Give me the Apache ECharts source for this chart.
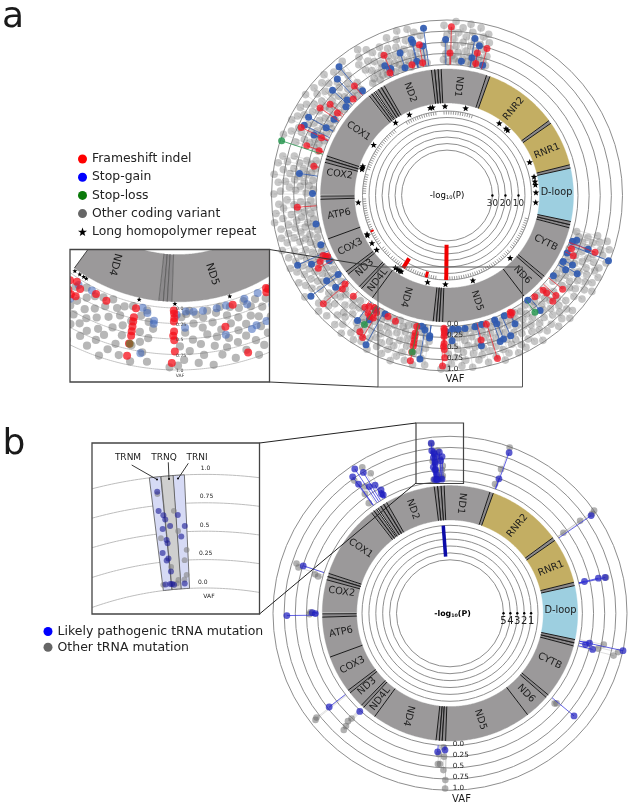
<!DOCTYPE html>
<html><head><meta charset="utf-8">
<script src="https://cdn.jsdelivr.net/npm/echarts@6/dist/echarts.min.js"></script>
<style>html,body{margin:0;padding:0;background:#fff}#c{width:634px;height:808px}</style>
</head><body><div id="c"></div>
<script>
// ---------- mitochondrial genome map (bp) ----------
const genomeLength = 16569;
const geneNames  = ['D-loop','D-loop','RNR1','RNR2','ND1','ND2','COX1','COX2','ATP6','COX3','ND3','ND4L','ND4','ND5','ND6','CYTB'];
const geneStart  = [16024,0,648,1671,3307,4470,5904,7586,8366,9207,10059,10470,10765,12337,14149,14747];
const geneEnd    = [16569,576,1601,3229,4262,5511,7445,8269,9207,9990,10404,10765,12137,14148,14673,15887];
const geneKind   = ['d','d','r','r','p','p','p','p','p','p','p','p','p','p','p','p'];
const trnaStart  = [577,1602,3230,4263,4329,4402,5512,5587,5657,5761,5826,7446,7518,8295,9991,10405,12138,12207,12266,14674,15888,15956];
const trnaEnd    = [647,1670,3304,4331,4400,4469,5579,5655,5729,5826,5891,7514,7585,8364,10058,10469,12206,12265,12336,14742,15953,16023];
const singleLines = [9207,10765,14149];
const labelNames = ['D-loop','RNR1','RNR2','ND1','ND2','COX1','COX2','ATP6','COX3','ND3','ND4L','ND4','ND5','ND6','CYTB'];
const labelAngle = [1.5,23.9,52.4,84,109.7,144,168.8,189.8,208,221.3,230.8,248,286,313.5,334.4];
const labelTilt  = [0,22,50,-97,-70,-34,-8,12,28,42,52,-105,-72,-46,-26];
const insetLabelAngle = [245.5,283];
// ---------- panel a: [angle deg, VAF] ----------
const frameshift = [[88.5,.85],[88.8,.26],[74.8,.48],[78,.33],[77.7,.09],[100.4,.5],[114.2,.51],[114.9,.1],[105,.1],[100.4,.09],[130.2,.28],[134.2,.08],[142,.39],[145.4,.52],[143,.14],[155,.67],[155.3,.16],[160.5,.4],[160.7,.1],[167.6,.12],[184.5,.43],[206.6,.11],[207.5,.27],[205.8,.15],[207,.07],[209.5,.38],[220.9,.09],[221.2,.75],[221.8,.21],[227.1,.15],[239,.13],[233.7,.17],[244,.08],[247.7,.11],[237.5,.28],[237.4,.69],[239.3,.77],[236.2,.24],[239,.27],[235,.1],[237,.06],[257,.08],[257,.23],[257.2,.38],[257.4,.53],[257.1,.3],[257.3,.46],[257.5,.86],[257.3,.66],[268.7,.04],[268.8,.09],[268.9,.16],[268.8,.22],[268.7,.45],[268.9,.38],[269,.52],[269.2,.7],[268.5,.89],[283.3,.39],[287,.08],[287.2,.89],[298,.1],[299,.07],[298.5,.04],[310.9,.07],[315.4,.09],[315,.42],[317.4,.38],[321,.4],[315.6,.19],[334.5,.2],[336.8,.1],[339,.62]];
const stopGain = [[90.5,.56],[83.9,.09],[79.9,.64],[77.8,.5],[79.7,.2],[74.7,.09],[98,.85],[102.9,.65],[99.2,.46],[102.6,.58],[108.2,.43],[115.6,.29],[113.9,.18],[108.2,.08],[102.7,.15],[130,.83],[128.9,.08],[133.3,.65],[137.4,.55],[136.3,.16],[138.7,.08],[146,.12],[150.5,.63],[150.7,.17],[153.8,.63],[155.5,.34],[171.5,.41],[179.1,.08],[192.3,.07],[201.3,.1],[209,.08],[206.9,.47],[205,.76],[216,.08],[215.3,.37],[219.5,.3],[216.5,.86],[238,.09],[242.4,.06],[238,.35],[234.4,.51],[241.5,.87],[260.6,.78],[259,.05],[260.7,.12],[263,.23],[263,.28],[269.6,.11],[272.4,.06],[274.8,.07],[277.7,.07],[272,.32],[282,.07],[282.9,.52],[285,.06],[291,.05],[291.2,.15],[290,.55],[291.5,.52],[294.4,.52],[295.5,.05],[297.9,.32],[307.6,.03],[309,.38],[323,.05],[328,.2],[330.4,.06],[331,.28],[329,.47],[334.4,.05],[339.9,.06],[341,.14],[339.2,.45],[338,.97]];
const stopLoss = [[161.7,.97],[237.4,.5],[257.5,.66],[307,.34]];
const otherCoding = [
[73.5,.1],[74,.31],[74.5,.62],[75,.18],[75.5,.8],[76,.44],[76.5,.07],[77,.25],[77,.71],[77.5,.53],[78,.12],[78.5,.9],[79,.37],[79.5,.05],[80,.6],[80.5,.22],[81,.77],[81,.46],[81.5,.1],[82,.94],[82.5,.33],[83,.65],[83.5,.15],[84,.52],[84.5,.84],[85,.08],[85.5,.28],[86,.72],[86.5,.42],[87,.97],[87,.13],[87.5,.58],[88,.2],[88.5,.76],[89,.36],[89.5,.06],[90,.66],[90.5,.24],[91,.88],[91,.48],[91.5,.11],
[98.5,.07],[99,.31],[99.5,.7],[100,.18],[101,.42],[101.5,.8],[102,.09],[102.5,.27],[103,.55],[103.5,.9],[104,.14],[104.5,.36],[105,.66],[105.5,.05],[106,.22],[106.5,.48],[107,.92],[107.5,.12],[108,.74],[108.5,.3],[109,.58],[109.5,.08],[110,.18],[110.5,.4],[111,.85],[111.5,.25],[112,.62],[112.5,.06],[113,.46],[113.5,.34],[114,.14],[114.5,.72],[115,.54],[115.5,.2],[116,.09],[116.5,.38],[117,.28],[117.5,.68],[118,.12],[118.5,.48],[119,.8],[119.5,.22],[120,.06],[120.5,.56],[121,.33],[121.5,.9],[122,.15],[122.5,.74],[123,.42],[123.5,.08],[124,.6],
[128,.88],[128.5,.3],[129,.12],[129.5,.55],[130.5,.7],[131,.2],[131.5,.42],[132,.07],[132.5,.82],[133,.32],[133.5,.14],[134,.6],[135,.48],[135.5,.93],[136,.25],[136.5,.72],[137,.1],[137.5,.36],[138,.84],[138.5,.52],[139,.18],[139.5,.66],[140,.06],[140.5,.4],[141,.9],[141.5,.28],[142,.76],[142.5,.12],[143,.58],[143.5,.34],[144,.44],[144.5,.96],[145,.2],[145.5,.68],[146,.08],[146.5,.5],[147,.82],[147.5,.3],[148,.62],[148.5,.14],[149,.9],[149.5,.38],[150,.05],[150.5,.74],[151,.24],[151.5,.46],[152,.86],[152.5,.11],[153,.56],[153.5,.32],[154,.94],[154.5,.2],[155,.42],[155.5,.72],[156,.08],[156.5,.62],[157,.28],[157.5,.84],[158,.16],[158.5,.5],[159,.36],[159.5,.98],[160,.24],[160.5,.66],[161,.12],
[165,.1],[165.5,.6],[166,.3],[166.5,.85],[167,.18],[167.5,.45],[168,.72],[168.5,.07],[169,.92],[169.5,.34],[170,.55],[170.5,.14],[171,.78],[171.5,.24],[172,.62],[172.5,.4],[173,.97],[173.5,.09],[174,.5],[174.5,.28],[175,.7],[175.5,.86],[176,.16],[176.5,.36],[177,.6],[177.5,.06],[178,.46],[178.5,.8],[179,.22],[179.5,.95],
[181.5,.65],[182,.12],[182.5,.35],[183,.84],[183.5,.5],[184,.2],[184.5,.74],[185,.06],[185.5,.42],[186,.92],[186.5,.28],[187,.58],[187.5,.14],[188,.78],[188.5,.36],[189,.98],[189.5,.48],[190,.1],[190.5,.68],[191,.24],[191.5,.86],[192,.54],[192.5,.32],[193,.16],[193.5,.72],[194,.44],[194.5,.9],[195,.06],[195.5,.62],[196,.26],[196.5,.8],[197,.38],[197.5,.52],[198,.12],[198.5,.96],[199,.3],
[200,.7],[200.5,.2],[201,.46],[201.5,.88],[202,.08],[202.5,.6],[203,.34],[203.5,.76],[204,.14],[204.5,.52],[205,.94],[205.5,.26],[206,.66],[206.5,.4],[207,.84],[207.5,.12],[208,.56],[208.5,.3],[209,.72],[209.5,.05],[210,.48],[210.5,.92],[211,.22],[211.5,.64],[212,.36],[212.5,.82],[213,.1],[213.5,.54],[214,.28],[214.5,.74],[215,.44],[215.5,.98],[216,.18],[216.5,.6],[217,.32],
[219,.12],[219.5,.5],[220,.82],[220.5,.3],[221,.62],[221.5,.44],[222,.94],[222.5,.16],[223,.7],[223.5,.36],[224,.56],[224.5,.24],[225,.88],
[227,.42],[227.5,.7],[228,.2],[228.5,.56],[229,.9],[229.5,.32],[230,.62],[230.5,.12],[231,.78],[231.5,.46],[232,.26],[232.5,.96],
[234,.22],[234.5,.56],[235,.82],[235.5,.38],[236,.66],[236.5,.48],[237,.92],[237.5,.14],[238,.6],[238.5,.74],[239,.44],[239.5,.86],[240,.32],[240.5,.06],[241,.54],[241.5,.7],[242,.2],[242.5,.95],[243,.38],[243.5,.62],[244,.12],[244.5,.5],[245,.8],[245.5,.3],[246,.68],[246.5,.08],[247,.42],[247.5,.9],[248,.2],[248.5,.58],[249,.76],[249.5,.05],[250,.34],[250.5,.64],[251,.98],[251.5,.16],[252,.48],[252.5,.84],[253,.26],[253.5,.1],[254,.72],[254.5,.4],[255,.56],[255.5,.88],[256,.06],[256.5,.3],[258,.68],[258.5,.94],[259,.18],[259.5,.44],[260,.6],[260.5,.08],[261,.76],[261.5,.26],[262,.52],[262.5,.9],[263,.36],
[268,.96],[270,.93],[270.5,.62],[271,.15],[271.5,.84],[272,.4],[272.5,.1],[273,.7],[273.5,.05],[274,.52],[274.5,.26],[275,.9],[275.5,.12],[276,.6],[276.5,.78],[277,.34],[277.5,.18],[278,.46],[278.5,.96],[279,.08],[279.5,.66],[280,.28],[280.5,.52],[281,.82],[281.5,.14],[282,.42],[282.5,.72],[283,.06],[283.5,.58],[284,.92],[284.5,.22],[285,.36],[285.5,.68],[286,.1],[286.5,.5],[287,.84],[287.5,.3],[288,.62],[288.5,.16],[289,.44],[289.5,.98],[290,.74],[290.5,.08],[291,.34],[291.5,.86],[292,.2],[292.5,.56],[293,.4],[293.5,.7],[294,.12],[294.5,.94],[295,.28],[295.5,.64],[296,.48],[296.5,.8],[297,.18],[297.5,.9],[298,.38],[298.5,.58],[299,.24],[299.5,.76],[300,.1],[300.5,.46],[301,.88],[301.5,.32],[302,.66],[302.5,.14],[303,.52],[303.5,.96],[304,.26],[304.5,.72],[305,.4],[305.5,.08],[306,.6],[306.5,.84],
[308,.2],[308.5,.56],[309,.78],[309.5,.14],[310,.42],[310.5,.92],[311,.3],[311.5,.64],[312,.08],[312.5,.5],[313,.84],[313.5,.24],[314,.7],[314.5,.36],[315,.96],[315.5,.58],[316,.16],[316.5,.76],[317,.44],[317.5,.88],[318,.28],[318.5,.62],
[321,.12],[321.5,.7],[322,.34],[322.5,.88],[323,.5],[323.5,.18],[324,.62],[324.5,.08],[325,.42],[325.5,.8],[326,.26],[326.5,.96],[327,.56],[327.5,.14],[328,.72],[328.5,.36],[329,.86],[329.5,.06],[330,.48],[330.5,.66],[331,.16],[331.5,.92],[332,.3],[332.5,.58],[333,.78],[333.5,.1],[334,.44],[334.5,.84],[335,.24],[335.5,.68],[336,.52],[336.5,.05],[337,.94],[337.5,.34],[338,.6],[338.5,.18],[339,.8],[339.5,.42],[340,.1],[340.5,.72],[341,.28],[341.5,.9],[342,.5],[342.5,.16],[343,.64],[343.5,.36],[344,.8],[344.5,.08],[345,.56]
];
const homopolymer = [77.9,91.3,99.4,100.9,115,125.3,145.5,161,162,163,184.6,206,206.8,212.5,217.8,234.6,236.5,238,239,257.4,269,286.9,315.2,355.4,1.8,6.8,8.9,12,21.8,47,48.5,54];
const pBarsA = [[269.5,27],[238.9,8.5],[255.7,4.5],[205.3,2.5]];
const pBarWidthA = [4,4,3,2];
const pDotsA = [10,20,30];
// ---------- panel b: [angle deg, VAF] ----------
const likelyPathogenic = [[96.3,.87],[96.4,.7],[95.8,.66],[95.6,.62],[96.1,.54],[95,.56],[93.8,.65],[92.9,.55],[93.5,.46],[95.7,.44],[95.6,.41],[96.5,.33],[96,.26],[95.7,.275],[95.5,.16],[96.6,.05],[95.8,.05],[95.5,.05],[93.4,.045],[95.2,.04],[69.8,.87],[70,.24],[34.7,.88],[13.3,.13],[13.3,.45],[13,.6],[123.4,.91],[121.6,.74],[125.5,.79],[125.3,.58],[122.5,.4],[120.3,.36],[119.2,.2],[119.4,.08],[119.8,.12],[162.1,.49],[180.8,.69],[179.7,.12],[180.1,.05],[217.8,.46],[227.4,.02],[264.9,.15],[267.9,.1],[320.4,.64],[347.9,.23],[345.8,.33],[347,.15],[347.8,1]];
const otherTrna = [[96.3,.85],[94.3,.69],[96.5,.46],[93.9,.51],[92.8,.34],[93.2,.25],[95.4,.2],[93,.12],[93.4,.08],[94.4,.08],[94.7,.05],[97,.05],[70.2,.98],[70.5,.46],[70.8,.1],[35.5,1],[35,.92],[35.4,.61],[35.4,.15],[12.9,.62],[121,.85],[119.5,.64],[125.8,.7],[124,.46],[126.4,.1],[125.5,.32],[162,.65],[163.2,.58],[163.9,.18],[164.4,.1],[180.4,.18],[179.6,.16],[218,.83],[218.4,.88],[226.9,.26],[227.3,.47],[227.7,.57],[226.6,.36],[265.5,.2],[267.6,.25],[266.2,.42],[265.4,.42],[267.6,.55],[268.4,.77],[268.4,.96],[267.3,.04],[319.8,.16],[319.2,.13],[345.5,.82],[347,.9],[346.7,.45],[348.5,.55]];
const pBarsB = [[94.4,4.5]];
const pDotsB = [1,2,3,4,5];
// ---------- axis ticks / labels ----------
const vafTicks = [0,.25,.5,.75,1];
const vafLabels = ['0.0','0.25','0.5','0.75','1.0'];
const insetTrnaNames = ['TRNM','TRNQ','TRNI'];

const deg = bp => bp / genomeLength * 360;
const C = {gene:'#9b999a', r:'#c3ae63', d:'#9dcfe0', t:'#8c8a8c'};
const FONT = '"DejaVu Sans", sans-serif';
const polars = [
  {center:[447,195.5],radius:[131,175.5]},   //0 a VAF
  {center:[447,195.5],radius:[92.5,126.5]},  //1 a genes
  {center:[447,195.5],radius:[45.4,84.5]},   //2 a P
  {center:[447,195.5],radius:[88,90]},       //3 a stars
  {center:[178,126],radius:[182,244]},       //4 inset a VAF
  {center:[178,126],radius:[128.6,175.8]},   //5 inset a genes
  {center:[178,126],radius:[177,179]},       //6 inset a stars
  {center:[450,613.3],radius:[132.4,177]},   //7 b VAF
  {center:[450,613.3],radius:[93.3,127.7]},  //8 b genes
  {center:[450,613.3],radius:[53.5,88]},     //9 b P
  {center:[205,925],radius:[337,450.6]}      //10 inset b VAF
];
const ringStyle = {color:'#8e8e8e',width:1};
const radialCfg = [
 {min:0,max:1,interval:.25,line:true},{min:0,max:1,interval:1,line:false},{min:0,max:30,interval:5,line:true,inverse:true},{min:0,max:1,interval:1,line:false},
 {min:0,max:1,interval:.25,line:false},{min:0,max:1,interval:1,line:false},{min:0,max:1,interval:1,line:false},
 {min:0,max:1,interval:.25,line:true},{min:0,max:1,interval:1,line:false},{min:0,max:5,interval:1,line:true,inverse:true},
 {min:0,max:1,interval:.25,line:false}
];
const clipA = {type:'rect',shape:{x:70,y:249.5,width:199.5,height:132.5}};
const clipB = {type:'rect',shape:{x:92,y:443,width:167.5,height:171}};

function custom(polarIndex, data, renderItem, name, color, z){
  return {type:'custom',coordinateSystem:'polar',polarIndex,data,renderItem,name,silent:true,animation:false,clip:false,
          itemStyle:color?{color}:undefined,z:z||2,encode:{radius:1,angle:0}};
}
function arc(api,v,a0,a1,step){const p=[];const n=Math.max(1,Math.ceil(Math.abs(a1-a0)/step));
  for(let i=0;i<=n;i++)p.push(api.coord([v,a0+(a1-a0)*i/n]));return p;}
function pointSeries(polarIndex,rows,name,o){
  return custom(polarIndex,rows,(p,api)=>{
    const a=api.value(0),v=api.value(1),c=api.coord([v,a]),kids=[];
    if(o.stem){const s=api.coord([0,a]);kids.push({type:'line',shape:{x1:s[0],y1:s[1],x2:c[0],y2:c[1]},style:{stroke:o.stem,lineWidth:o.sw||1}});}
    kids.push({type:'circle',shape:{cx:c[0],cy:c[1],r:o.r},style:{fill:o.color}});
    const g={type:'group',children:kids}; if(o.clip)g.clipPath=JSON.parse(JSON.stringify(o.clip)); return g;
  },name,o.legend,o.z);
}
function starShape(c,R){const pts=[];for(let i=0;i<10;i++){const rr=i%2?R*.42:R,t=-Math.PI/2+i*Math.PI/5;pts.push([c[0]+rr*Math.cos(t),c[1]+rr*Math.sin(t)]);}return pts;}
function starSeries(polarIndex,size,clip){
  return custom(polarIndex,homopolymer.map(a=>[a,.5]),(p,api)=>{
    const g={type:'group',children:[{type:'polygon',shape:{points:starShape(api.coord([api.value(1),api.value(0)]),size)},style:{fill:'#000'}}]};
    if(clip)g.clipPath=JSON.parse(JSON.stringify(clip));return g;},'Long homopolymer repeat','#000',6);
}
function geneSeries(polarIndex,clip,fs,lw,inset){
  const out=[];
  const wrap=(kids)=>{const g={type:'group',children:kids};if(clip)g.clipPath=JSON.parse(JSON.stringify(clip));return g;};
  const geneRows=geneStart.map((s,i)=>[deg(s),deg(geneEnd[i]),i]).filter(r=>!inset||geneNames[r[2]]==='ND4'||geneNames[r[2]]==='ND5');
  const trnaRows=trnaStart.map((s,i)=>[deg(s),deg(trnaEnd[i])]).filter((r,i)=>!inset||(trnaStart[i]>12000&&trnaStart[i]<12400));
  const lineRows=singleLines.filter(b=>!inset||b===10765).map(b=>[deg(b)]);
  const labRows=inset?[[insetLabelAngle[0],labelTilt[11],11],[insetLabelAngle[1],labelTilt[12],12]]:labelAngle.map((a,i)=>[a,labelTilt[i],i]);
  out.push(custom(polarIndex,geneRows,(p,api)=>{
    const a0=api.value(0),a1=api.value(1),k=geneKind[api.value(2)];
    const pts=arc(api,1,a0,a1,.5).concat(arc(api,0,a1,a0,.5));
    return wrap([{type:'polygon',shape:{points:pts},style:{fill:k==='d'?C.d:k==='r'?C.r:C.gene,stroke:k==='d'?C.d:k==='r'?C.r:C.gene,lineWidth:.4}}]);
  }));
  out.push(custom(polarIndex,trnaRows,(p,api)=>{
    const a0=api.value(0),a1=api.value(1);
    const pts=arc(api,1,a0,a1,.5).concat(arc(api,0,a1,a0,.5));
    const e=[a0,a1].map(a=>{const x=api.coord([0,a]),y=api.coord([1,a]);return {type:'line',shape:{x1:x[0],y1:x[1],x2:y[0],y2:y[1]},style:{stroke:inset?'#555':'#1a1a1a',lineWidth:lw}};});
    return wrap([{type:'polygon',shape:{points:pts},style:{fill:C.t}}].concat(e));
  }));
  out.push(custom(polarIndex,lineRows,(p,api)=>{
    const x=api.coord([0,api.value(0)]),y=api.coord([1,api.value(0)]);
    return wrap([{type:'line',shape:{x1:x[0],y1:x[1],x2:y[0],y2:y[1]},style:{stroke:'#1a1a1a',lineWidth:lw}}]);
  }));
  out.push(custom(polarIndex,labRows,(p,api)=>{
    const c=api.coord([.5,api.value(0)]);
    return wrap([{type:'text',x:c[0],y:c[1],rotation:api.value(1)*Math.PI/180,
      style:{text:labelNames[api.value(2)],fontSize:fs,fontFamily:FONT,fill:'#1c1c1c',align:'center',verticalAlign:'middle'}}]);
  },undefined,undefined,3));
  return out;
}
function arcSeries(polarIndex,a0,a1,clip,color){
  return custom(polarIndex,vafTicks.map(v=>[0,v]),(p,api)=>{
    const g={type:'group',children:[{type:'polyline',shape:{points:arc(api,api.value(1),a0,a1,.5)},style:{fill:'none',stroke:color,lineWidth:1}}]};
    g.clipPath=JSON.parse(JSON.stringify(clip));return g;
  });
}
function vafLabelSeries(polarIndex,dx,dy,fs,color){
  return custom(polarIndex,vafTicks.map((v,i)=>[270,v,i]),(p,api)=>{
    const c=api.coord([api.value(1),api.value(0)]);const i=api.value(2);
    return {type:'text',x:c[0]+dx,y:c[1]+dy,style:{text:vafLabels[i],fontSize:fs,fontFamily:FONT,fill:color||'#222',align:'left',verticalAlign:'middle'}};
  },undefined,undefined,8);
}
function pBarSeries(polarIndex,rows,widths,color){
  return custom(polarIndex,rows.map((r,i)=>[r[0],r[1],widths[i]]),(p,api)=>{
    const x=api.coord([0,api.value(0)]),y=api.coord([api.value(1),api.value(0)]);
    return {type:'line',shape:{x1:x[0],y1:x[1],x2:y[0],y2:y[1]},style:{stroke:color,lineWidth:api.value(2)}};
  },undefined,undefined,5);
}
function pDotSeries(polarIndex,vals,fs){
  return custom(polarIndex,vals.map(v=>[0,v]),(p,api)=>{
    const c=api.coord([api.value(1),0]);
    return {type:'group',children:[{type:'circle',shape:{cx:c[0],cy:c[1],r:1.2},style:{fill:'#000'}},
      {type:'text',x:c[0],y:c[1]+8.5,style:{text:String(api.value(1)),fontSize:fs,fontFamily:FONT,fill:'#222',align:'center',verticalAlign:'middle'}}]};
  },undefined,undefined,5);
}
const tickAngles=[];geneStart.forEach((s,i)=>{if(geneKind[i]==='p'){for(let b=s+30;b<geneEnd[i]-10;b+=75)tickAngles.push(deg(b));}});
const tickSeries=custom(2,tickAngles.map(a=>[a]),(p,api)=>{
  const x=api.coord([0,api.value(0)]),y=api.coord([2.7,api.value(0)]);
  return {type:'line',shape:{x1:x[0],y1:x[1],x2:y[0],y2:y[1]},style:{stroke:'#8e8e8e',lineWidth:.9}};
});

const A={grey:'rgba(105,105,105,.38)',red:'rgba(240,22,36,.78)',blue:'rgba(48,90,176,.92)',green:'rgba(40,150,80,.85)'};
const AI={grey:'rgba(95,95,95,.45)',red:'rgba(245,15,25,.75)',blue:'rgba(60,100,185,.55)',green:'rgba(120,110,50,.8)'};
const series=[
  ...geneSeries(1,null,9.7,1,false),
  pointSeries(0,otherCoding,'Other coding variant',{r:3.8,color:A.grey,stem:'rgba(130,130,130,.22)',legend:'#666'}),
  pointSeries(0,stopGain,'Stop-gain',{r:3.5,color:A.blue,stem:'rgba(48,90,176,.8)',legend:'#00f',z:3}),
  pointSeries(0,frameshift,'Frameshift indel',{r:3.5,color:A.red,stem:'rgba(240,30,40,.7)',legend:'#f00',z:3}),
  pointSeries(0,stopLoss,'Stop-loss',{r:3.5,color:A.green,stem:'rgba(40,150,80,.8)',legend:'#0a7a0a',z:3}),
  tickSeries,
  pBarSeries(2,pBarsA,pBarWidthA,'#f00000'),
  pDotSeries(2,pDotsA,8.8),
  starSeries(3,3.5,null),
  vafLabelSeries(0,0,-2,7.2,'#222'),
  arcSeries(4,205,335,clipA,'#c4c4c4'),
  ...geneSeries(5,clipA,10.6,.7,true),
  pointSeries(4,otherCoding,'Other coding variant',{r:4.1,color:AI.grey,clip:clipA,legend:'#666'}),
  pointSeries(4,stopGain,'Stop-gain',{r:4,color:AI.blue,clip:clipA,legend:'#00f',z:3}),
  pointSeries(4,frameshift,'Frameshift indel',{r:4,color:AI.red,clip:clipA,legend:'#f00',z:3}),
  pointSeries(4,stopLoss,'Stop-loss',{r:4,color:AI.green,clip:clipA,legend:'#0a7a0a',z:3}),
  starSeries(6,2.6,clipA),
  vafLabelSeries(4,-2,1,4.6,'#444'),
  ...geneSeries(8,null,9.8,1,false),
  pointSeries(7,otherTrna,'Other tRNA mutation',{r:3.3,color:'rgba(100,100,100,.5)',stem:'rgba(150,150,150,.3)',legend:'#666'}),
  pointSeries(7,likelyPathogenic,'Likely pathogenic tRNA mutation',{r:3.4,color:'rgba(30,30,190,.72)',stem:'rgba(50,50,220,.75)',legend:'#00f',z:3}),
  pBarSeries(9,pBarsB,[3.5],'#0b0ba8'),
  pDotSeries(9,pDotsB,10),
  vafLabelSeries(7,2.7,-2,7.2,'#222'),
  arcSeries(10,78,112,clipB,'#bdbdbd'),
  custom(10,[[deg(trnaStart[3]),deg(trnaEnd[3]),'#d6daf5'],[deg(trnaStart[5]),deg(trnaEnd[5]),'#d6daf5'],[deg(trnaStart[4]),deg(trnaEnd[4]),'#cfcfcf']],(p,api)=>{
    const a0=api.value(0),a1=api.value(1);
    const pts=arc(api,1,a0,a1,.25).concat(arc(api,0,a1,a0,.25));
    return {type:'polygon',shape:{points:pts},style:{fill:api.value(2),stroke:'#555',lineWidth:.8}};
  }),
  pointSeries(10,otherTrna.slice(0,12),'Other tRNA mutation',{r:2.9,color:'rgba(130,130,130,.6)',clip:clipB,legend:'#666',z:3}),
  pointSeries(10,likelyPathogenic.slice(0,20),'Likely pathogenic tRNA mutation',{r:3,color:'rgba(30,30,150,.62)',clip:clipB,legend:'#00f',z:3}),
];
const insetBLabelX=[-1,2,1,3,2];
series.push(custom(10,vafTicks.map((v,i)=>[92,v,i]),(p,api)=>{
  const i=api.value(2),c=api.coord([api.value(1),90.2]);
  return {type:'text',x:c[0]+insetBLabelX[i],y:c[1]-6,style:{text:vafLabels[i],fontSize:6,fontFamily:FONT,fill:'#222',align:'center',verticalAlign:'middle'}};
},undefined,undefined,8));

const starPath='path://M50 0 L62 35 L98 35 L69 57 L79 92 L50 71 L21 92 L31 57 L2 35 L38 35 Z';
const line=(x1,y1,x2,y2,c,w)=>({type:'line',silent:true,z:50,shape:{x1,y1,x2,y2},style:{stroke:c||'#333',lineWidth:w||1}});
const box=(x,y,w,h,c,lw)=>({type:'rect',silent:true,z:50,shape:{x,y,width:w,height:h},style:{fill:'none',stroke:c,lineWidth:lw}});
const txt=(x,y,t,fs,extra)=>({type:'text',silent:true,z:51,x,y,style:Object.assign({text:t,fontSize:fs,fontFamily:FONT,fill:'#1a1a1a',align:'center',verticalAlign:'middle'},extra||{})});
const logLabel=(x,y,fs,w)=>({type:'text',silent:true,z:51,x,y,style:{rich:{a:{fontSize:fs,fontWeight:w,fontFamily:FONT,fill:'#000'},s:{fontSize:fs*.6,fontWeight:w,fontFamily:FONT,fill:'#000',verticalAlign:'bottom',padding:[4,0,0,0]}},text:'{a|-log}{s|10}{a|(P)}',align:'center',verticalAlign:'middle'}});
const graphic=[
  txt(13,18,'a',36),txt(14,445,'b',36),
  box(378,267,144.5,120,'#555',1),line(269.5,249.5,378,267,'#333'),line(269.5,382,378,387,'#333'),
  box(70,249.5,199.5,132.5,'#444',1.3),
  logLabel(447,195.5,8.6,'normal'),
  txt(455,379,'VAF',10),
  txt(180,375.5,'VAF',4.5,{fill:'#444'}),
  box(416,423,47.5,60.5,'#444',1.2),line(259.5,443,416,423,'#222'),line(259.5,614,416,483,'#222'),
  box(92,443,167.5,171,'#444',1.3),
  logLabel(452.5,613.5,7.9,'bold'),
  txt(461.5,799,'VAF',10),txt(209,596,'VAF',6),
  txt(128,457.5,insetTrnaNames[0],9),txt(164,457.5,insetTrnaNames[1],9),txt(197,457.5,insetTrnaNames[2],9),
  line(131.7,465,156.7,479.3,'#222',.9),line(168.3,462.3,169,479,'#222',.9),line(188.3,463.3,178.3,478.3,'#222',.9),
  {type:'circle',silent:true,z:51,shape:{cx:157,cy:479.5,r:1},style:{fill:'#000'}},
  {type:'circle',silent:true,z:51,shape:{cx:169,cy:479,r:1},style:{fill:'#000'}},
  {type:'circle',silent:true,z:51,shape:{cx:178,cy:478.5,r:1},style:{fill:'#000'}}
];

const chart=echarts.init(document.getElementById('c'),null,{renderer:'canvas'});
chart.setOption({
  animation:false,backgroundColor:'#fff',
  polar:polars,
  angleAxis:polars.map((_,i)=>({polarIndex:i,type:'value',min:0,max:360,startAngle:0,clockwise:false,show:false})),
  radiusAxis:radialCfg.map((r,i)=>({polarIndex:i,type:'value',min:r.min,max:r.max,interval:r.interval,inverse:!!r.inverse,
    axisLine:{show:false},axisTick:{show:false},axisLabel:{show:false},splitLine:{show:r.line,lineStyle:ringStyle}})),
  legend:[
   {left:78,top:153,orient:'vertical',itemWidth:9,itemHeight:9,itemGap:6.2,selectedMode:false,padding:0,
    textStyle:{fontFamily:FONT,fontSize:12.4,color:'#222'},
    data:[{name:'Frameshift indel',icon:'circle',itemStyle:{color:'#f00'}},{name:'Stop-gain',icon:'circle',itemStyle:{color:'#00f'}},
          {name:'Stop-loss',icon:'circle',itemStyle:{color:'#0a7a0a'}},{name:'Other coding variant',icon:'circle',itemStyle:{color:'#666'}},
          {name:'Long homopolymer repeat',icon:starPath,itemStyle:{color:'#000'}}]},
   {left:43.5,top:625,orient:'vertical',itemWidth:9,itemHeight:9,itemGap:2.8,selectedMode:false,padding:0,
    textStyle:{fontFamily:FONT,fontSize:12.5,color:'#222'},
    data:[{name:'Likely pathogenic tRNA mutation',icon:'circle',itemStyle:{color:'#00f'}},{name:'Other tRNA mutation',icon:'circle',itemStyle:{color:'#666'}}]}
  ],
  graphic:{elements:graphic},
  series
});
</script></body></html>
